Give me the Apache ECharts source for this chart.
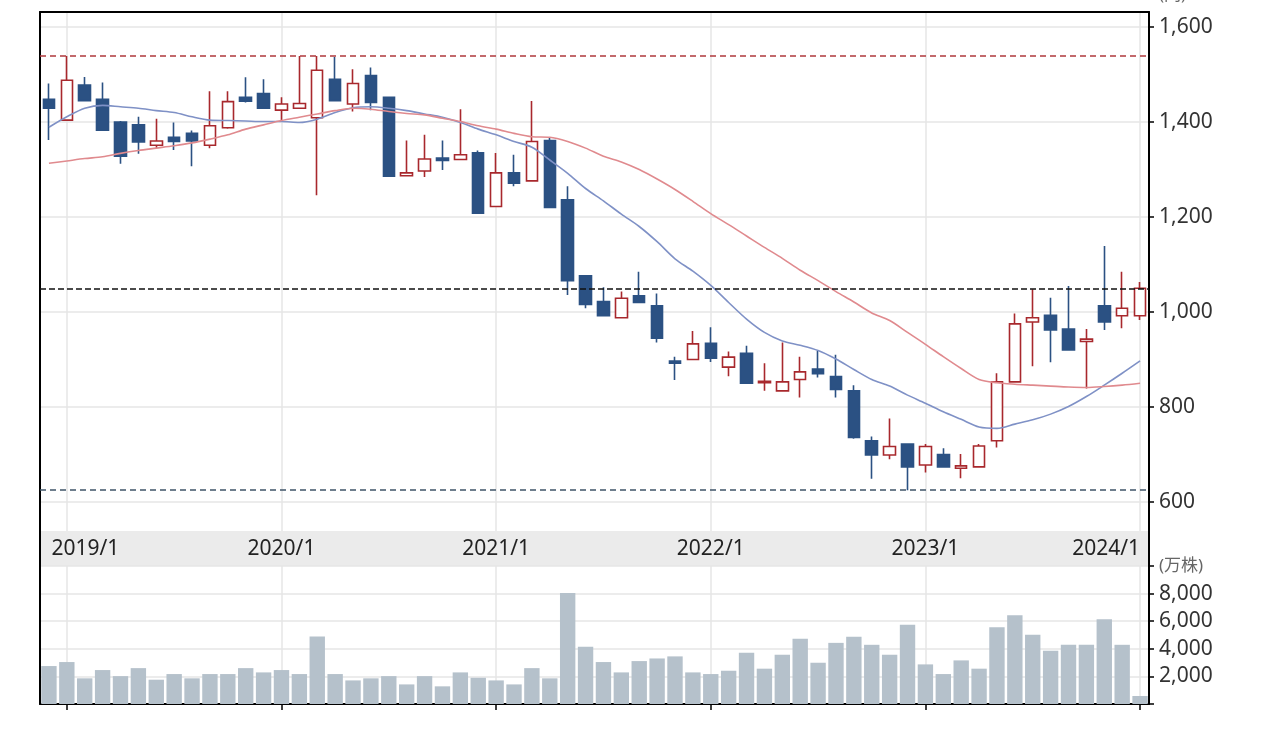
<!DOCTYPE html>
<html><head><meta charset="utf-8">
<script src="https://cdn.jsdelivr.net/npm/echarts@6/dist/echarts.min.js"></script>
<style>html,body{margin:0;padding:0;background:#fff}#c{width:1279px;height:735px}</style>
</head><body><div id="c"></div>
<script>
const months = ['2018/12',
 '2019/1','2019/2','2019/3','2019/4','2019/5','2019/6','2019/7','2019/8','2019/9','2019/10','2019/11','2019/12',
 '2020/1','2020/2','2020/3','2020/4','2020/5','2020/6','2020/7','2020/8','2020/9','2020/10','2020/11','2020/12',
 '2021/1','2021/2','2021/3','2021/4','2021/5','2021/6','2021/7','2021/8','2021/9','2021/10','2021/11','2021/12',
 '2022/1','2022/2','2022/3','2022/4','2022/5','2022/6','2022/7','2022/8','2022/9','2022/10','2022/11','2022/12',
 '2023/1','2023/2','2023/3','2023/4','2023/5','2023/6','2023/7','2023/8','2023/9','2023/10','2023/11','2023/12',
 '2024/1'];
const opens  = [1448,1404,1478,1448,1400,1394,1351,1368,1376,1351,1388,1452,1460,1425,1429,1409,1490,1438,1498,1452,1287,1297,1324,1321,1335,1222,1293,1276,1361,1236,1076,1022,988,1034,1013,897,900,934,884,913,851,834,858,880,864,834,729,699,722,678,700,671,674,729,853,979,993,964,938,1013,992,992];
const closes = [1429,1488,1445,1383,1328,1358,1360,1359,1360,1392,1443,1444,1429,1438,1439,1509,1445,1481,1441,1286,1293,1322,1319,1331,1208,1293,1271,1359,1220,1066,1016,992,1029,1020,945,892,933,903,905,850,854,853,874,870,837,736,699,717,674,717,674,676,718,853,975,988,962,920,943,979,1008,1050];
const lows   = [1362,1402,1443,1381,1312,1333,1345,1341,1307,1345,1386,1441,1428,1403,1428,1246,1444,1422,1425,1285,1286,1284,1299,1320,1207,1221,1265,1275,1219,1036,1008,991,988,1019,936,857,899,895,865,849,834,833,820,862,820,733,649,690,625,662,673,650,673,715,852,886,894,919,839,962,966,983];
const highs  = [1481,1539,1495,1483,1402,1411,1407,1399,1382,1465,1465,1494,1490,1452,1539,1539,1537,1511,1515,1453,1361,1373,1361,1427,1340,1335,1331,1444,1368,1265,1078,1052,1043,1085,1039,906,960,968,917,929,892,936,906,918,910,846,738,776,723,722,713,701,722,871,997,1048,1030,1055,964,1139,1085,1063];
const maShort = [1389,1411,1429,1435,1432,1429,1424,1420,1411,1404,1403,1402,1401,1401,1399,1406,1420,1430,1432,1429,1424,1417,1410,1399,1385,1373,1359,1347,1320,1292,1260,1234,1206,1180,1148,1112,1086,1056,1020,985,957,939,930,919,901,879,858,844,825,808,790,774,758,755,764,773,785,801,822,846,871,897];
const maLong  = [1313,1318,1323,1327,1334,1340,1345,1350,1356,1364,1373,1385,1394,1403,1410,1417,1424,1429,1427,1422,1418,1415,1408,1401,1392,1385,1376,1369,1368,1359,1345,1328,1316,1300,1280,1258,1233,1207,1184,1160,1136,1113,1088,1066,1043,1021,998,982,957,932,906,881,858,851,848,846,844,842,841,843,846,850];
const volumes = [2750,3040,1860,2460,2020,2600,1760,2170,1860,2170,2170,2600,2290,2460,2170,4890,2170,1710,1860,2020,1420,2020,1280,2290,1900,1710,1420,2600,1860,8050,4150,3040,2290,3110,3300,3450,2290,2170,2410,3710,2560,3570,4720,2990,4430,4870,4290,3570,5740,2870,2170,3160,2560,5570,6440,5010,3860,4290,4290,6150,4290,580];

const FONT = "'Noto Sans', 'Noto Sans CJK JP', sans-serif";
const isJan = (i, v) => /\/1$/.test(v);
const fmt = v => v.toLocaleString('en-US');
const L = 40, W = 1109;
const candles = months.map((m, i) => [opens[i], closes[i], lows[i], highs[i]]);
const hi = Math.max(...highs), lo = Math.min(...lows), last = closes[closes.length - 1];

const blackLine = {show: true, onZero: false, lineStyle: {color: '#000', width: 2}};
const plainY = (g, pos) => ({gridIndex: g, type: 'value', min: 0, max: 1, position: pos,
  axisLine: blackLine, axisTick: {show: false}, axisLabel: {show: false}, splitLine: {show: false}});
const grid = {color: '#e6e6e6', width: 1.5};
const g = o => Object.assign({left: L, width: W, outerBoundsMode: 'none', containLabel: false}, o);

const option = {
  animation: false,
  backgroundColor: '#fff',
  grid: [
    g({top: 12, height: 519}),
    g({top: 27, height: 475}),
    g({top: 531, height: 35, show: true, backgroundColor: '#ebebeb', borderWidth: 0}),
    g({top: 566, height: 138})
  ],
  xAxis: [
    {gridIndex: 0, type: 'category', data: months, position: 'top', axisLine: blackLine,
     axisTick: {show: false}, axisLabel: {show: false},
     splitLine: {show: true, interval: isJan, alignWithLabel: true, lineStyle: grid}},
    {gridIndex: 1, type: 'category', data: months, axisLine: {show: false, onZero: false}, axisTick: {show: false},
     axisLabel: {show: false}, splitLine: {show: false}},
    {gridIndex: 2, type: 'category', data: months, axisLine: {show: false, onZero: false}, axisTick: {show: false},
     splitLine: {show: false},
     axisLabel: {inside: true, interval: isJan, margin: 17, verticalAlign: 'middle', fontSize: 21,
       fontFamily: FONT, color: '#222', alignMaxLabel: 'right',
       formatter: (v, i) => i === 1 ? '{f|' + v + '}' : v,
       rich: {f: {padding: [0, 0, 0, 37], fontSize: 21, fontFamily: FONT, color: '#222'}}}},
    {gridIndex: 3, type: 'category', data: months, axisLine: blackLine,
     axisTick: {show: true, interval: isJan, alignWithLabel: true, length: 6, lineStyle: {color: '#000', width: 1.5}},
     axisLabel: {show: false},
     splitLine: {show: true, interval: isJan, alignWithLabel: true, lineStyle: grid}}
  ],
  yAxis: [
    plainY(0, 'left'),
    plainY(0, 'right'),
    {gridIndex: 1, type: 'value', min: 600, max: 1600, interval: 200, position: 'right',
     axisLine: blackLine, axisTick: {show: true, length: 5, lineStyle: {color: '#000', width: 1.5}},
     axisLabel: {margin: 10, fontSize: 21, fontFamily: FONT, color: '#333', formatter: fmt},
     splitLine: {show: true, lineStyle: grid},
     name: '(円)', nameLocation: 'end', nameGap: 23,
     nameTextStyle: {fontSize: 17, fontFamily: FONT, color: '#666', align: 'left', verticalAlign: 'bottom', padding: [0, 0, 0, 10]}},
    plainY(2, 'left'),
    plainY(2, 'right'),
    {gridIndex: 3, type: 'value', min: 0, max: 10000, interval: 2000, position: 'right',
     axisLine: blackLine, axisTick: {show: true, length: 5, lineStyle: {color: '#000', width: 1.5}},
     axisLabel: {margin: 10, fontSize: 21, fontFamily: FONT, color: '#333',
       formatter: v => v === 10000 ? '{u|(万株)}' : (v === 0 ? '' : fmt(v)),
       rich: {u: {fontSize: 17, fontFamily: FONT, color: '#666'}}},
     splitLine: {show: true, lineStyle: grid}},
    plainY(3, 'left')
  ],
  series: [
    {type: 'candlestick', xAxisIndex: 1, yAxisIndex: 2, data: candles, barWidth: 12,
     itemStyle: {color: '#ffffff', color0: '#2b5183', borderColor: '#a8282d', borderColor0: '#2b5183', borderWidth: 1.6},
     markLine: {silent: true, symbol: ['none', 'none'], label: {show: false},
       data: [
         {yAxis: hi, lineStyle: {color: '#b0383c', type: [6, 4], width: 1.5}},
         {yAxis: last, lineStyle: {color: '#111111', type: [6, 3], width: 1.5}},
         {yAxis: lo, lineStyle: {color: '#3f5468', type: [6, 4], width: 1.5}}
       ]}},
    {type: 'line', xAxisIndex: 1, yAxisIndex: 2, data: maShort, symbol: 'none', smooth: 0.3,
     lineStyle: {color: '#7f91c6', width: 1.6}},
    {type: 'line', xAxisIndex: 1, yAxisIndex: 2, data: maLong, symbol: 'none', smooth: 0.3,
     lineStyle: {color: '#e08a8e', width: 1.6}},
    {type: 'bar', xAxisIndex: 3, yAxisIndex: 5, data: volumes, barWidth: '86%',
     itemStyle: {color: '#b5c1cb'}}
  ]
};
const chart = echarts.init(document.getElementById('c'));
chart.setOption(option);
</script></body></html>
